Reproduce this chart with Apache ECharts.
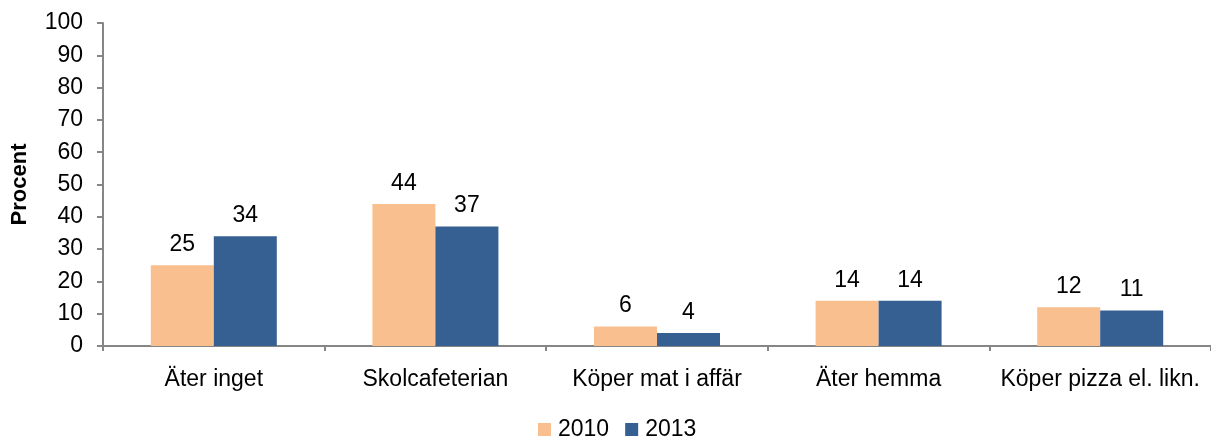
<!DOCTYPE html>
<html>
<head>
<meta charset="utf-8">
<script src="https://cdn.jsdelivr.net/npm/echarts@6/dist/echarts.min.js"></script>
<style>
html, body { margin: 0; padding: 0; background: #fff; }
#chart { width: 1211px; height: 441px; }
</style>
</head>
<body>
<div id="chart"></div>
<script>
var categories = ['Äter inget', 'Skolcafeterian', 'Köper mat i affär', 'Äter hemma', 'Köper pizza el. likn.'];
var values2010 = [25, 44, 6, 14, 12];
var values2013 = [34, 37, 4, 14, 11];
var yTicks = [0, 10, 20, 30, 40, 50, 60, 70, 80, 90, 100];

var font = 'Liberation Sans, Arial, sans-serif';
var chart = echarts.init(document.getElementById('chart'));

function barSeries(name, data, color) {
    return {
        name: name,
        type: 'bar',
        data: data,
        barWidth: 63,
        barGap: '0%',
        itemStyle: { color: color },
        label: {
            show: true,
            position: 'top',
            distance: 9,
            color: '#000',
            fontFamily: font,
            fontSize: 23
        }
    };
}

chart.setOption({
    animation: false,
    grid: { left: 103, right: 0, top: 23, bottom: 95, containLabel: false },
    legend: {
        bottom: -5,
        left: 533,
        itemWidth: 13,
        itemHeight: 13,
        itemGap: 16,
        icon: 'rect',
        textStyle: { fontFamily: font, fontSize: 23, color: '#000', padding: [0, 0, 0, 2] },
        data: ['2010', '2013']
    },
    xAxis: {
        type: 'category',
        data: categories,
        axisLine: { lineStyle: { color: '#868686', width: 2 } },
        axisTick: { show: true, interval: 0, length: 5, lineStyle: { color: '#868686', width: 2 } },
        axisLabel: { interval: 0, color: '#000', fontFamily: font, fontSize: 23, margin: 22 }
    },
    yAxis: {
        type: 'value',
        min: yTicks[0],
        max: yTicks[yTicks.length - 1],
        interval: 10,
        name: 'Procent',
        nameLocation: 'middle',
        nameRotate: 90,
        nameGap: 72,
        nameTextStyle: { fontFamily: font, fontSize: 22, fontWeight: 'bold', color: '#000' },
        axisLine: { show: true, lineStyle: { color: '#868686', width: 2 } },
        axisTick: { show: true, length: 6, lineStyle: { color: '#868686', width: 2 } },
        splitLine: { show: false },
        axisLabel: { color: '#000', fontFamily: font, fontSize: 23, margin: 20 }
    },
    series: [
        barSeries('2010', values2010, '#F9BF8F'),
        barSeries('2013', values2013, '#366092')
    ]
});

window.addEventListener('resize', function () {
    chart.resize();
});
</script>
</body>
</html>
